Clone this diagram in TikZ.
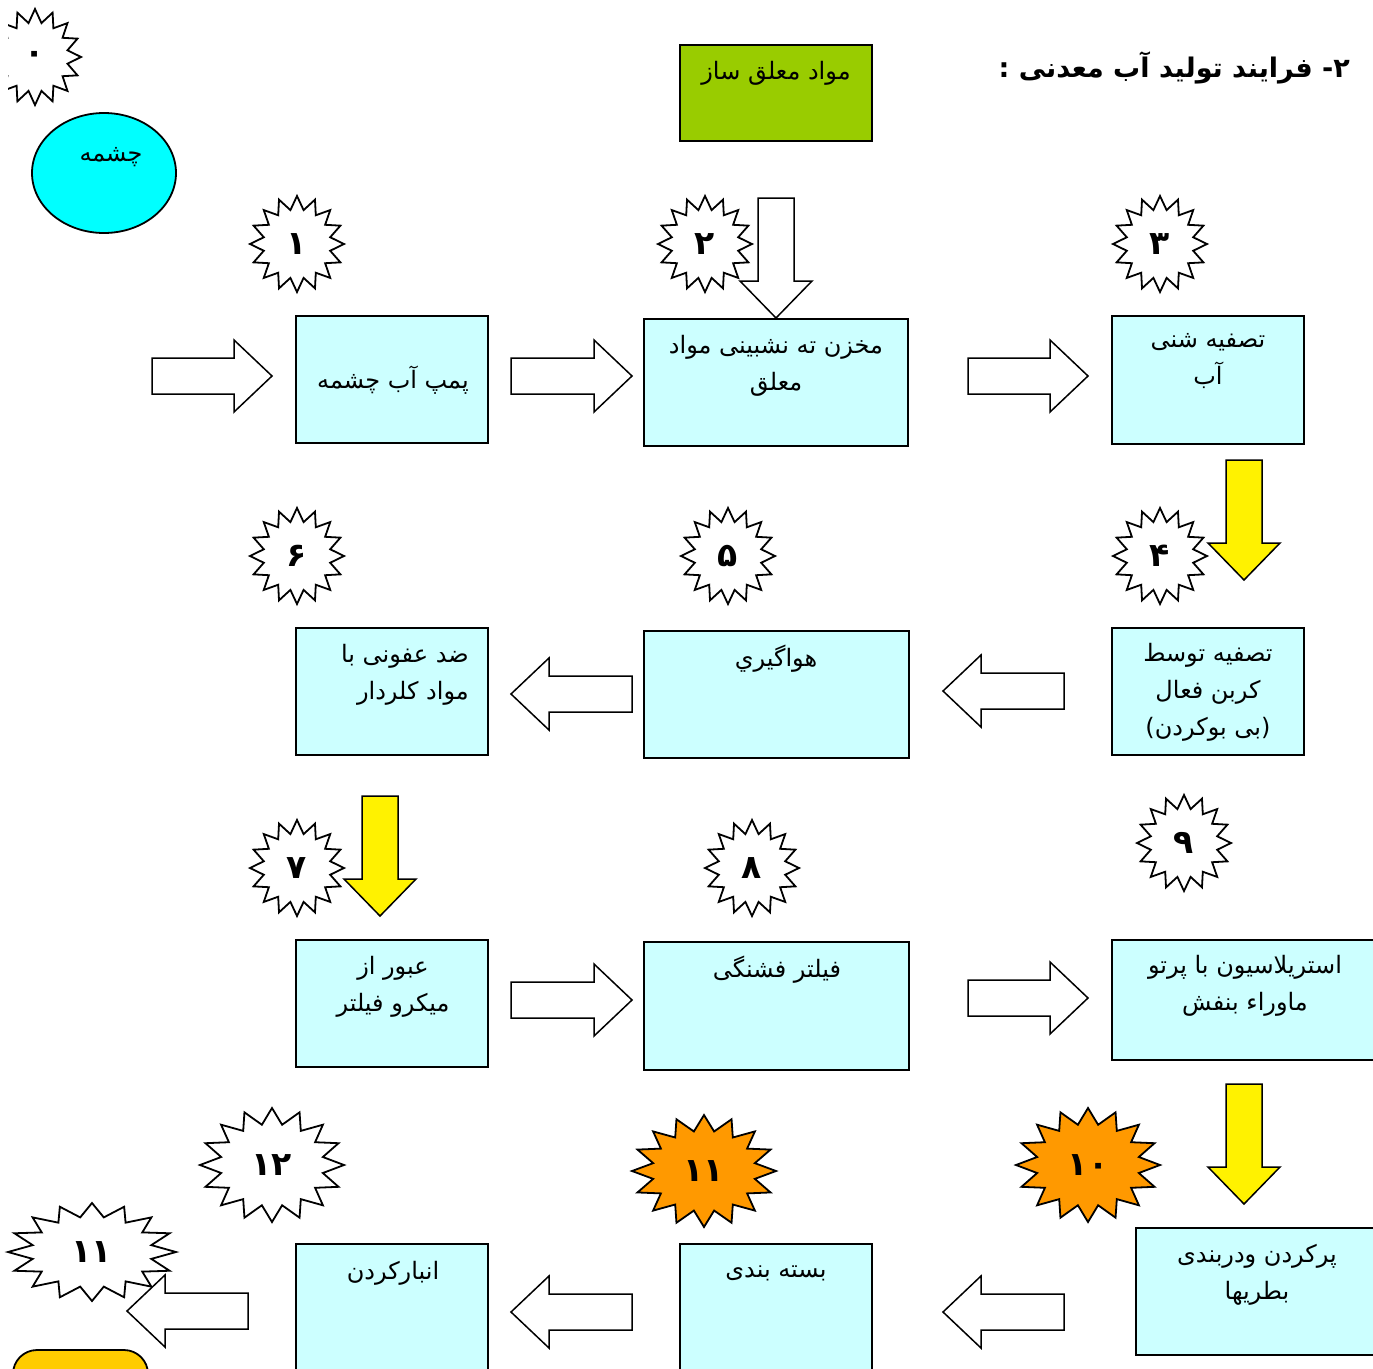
\documentclass[tikz,border=0pt]{standalone}
\usepackage{fontspec}
\usetikzlibrary{shapes.geometric}
\TeXXeTstate=1
\newfontfamily\arabicfont[Script=Arabic]{DejaVu Sans}
\newcommand\R[1]{\beginR #1\endR}
\definecolor{boxcyan}{HTML}{CCFFFF}
\definecolor{lime}{HTML}{99CC00}
\definecolor{orng}{HTML}{FF9900}
\definecolor{gold}{HTML}{FFCC00}
\definecolor{aqua}{HTML}{00FFFF}
\tikzset{
  procbox/.style={draw=black, fill=boxcyan, line width=1.8pt, inner sep=0pt},
  boxtxt/.style={font=\arabicfont\fontsize{24}{37}\selectfont, align=center, inner sep=0pt},
  numtxt/.style={font=\arabicfont\bfseries\fontsize{33}{36}\selectfont, inner sep=0pt},
  burstline/.style={draw=black, line width=1.8pt, line join=miter},
  blockarrow/.style={draw=black, line width=1.5pt, line join=miter},
}
\newcommand\burst[6]{% name x y rx ry fill
  \path[burstline, fill=#6] plot[samples at={0,...,31}, variable=\k]
    ({#2+(iseven(\k)?1:0.72)*#4*cos(\k*11.25+90)}, {#3+(iseven(\k)?1:0.72)*#5*sin(\k*11.25+90)}) -- cycle;
  \coordinate (#1) at (#2,#3);
}
\newcommand\rarrow[4]{% x1 xtip yc fill
  \path[blockarrow, fill=#4] (#1,{#3-18}) -- ({#2-38},{#3-18}) -- ({#2-38},{#3-36}) -- (#2,#3)
    -- ({#2-38},{#3+36}) -- ({#2-38},{#3+18}) -- (#1,{#3+18}) -- cycle;}
\newcommand\larrow[4]{% xtip x2 yc fill
  \path[blockarrow, fill=#4] (#2,{#3-18}) -- ({#1+38},{#3-18}) -- ({#1+38},{#3-36}) -- (#1,#3)
    -- ({#1+38},{#3+36}) -- ({#1+38},{#3+18}) -- (#2,{#3+18}) -- cycle;}
\newcommand\darrow[4]{% xc ytop ytip fill
  \path[blockarrow, fill=#4] ({#1-18},#2) -- ({#1+18},#2) -- ({#1+18},{#3-37}) -- ({#1+36},{#3-37})
    -- (#1,#3) -- ({#1-36},{#3-37}) -- ({#1-18},{#3-37}) -- cycle;}
\begin{document}
\begin{tikzpicture}[x=1pt,y=-1pt]
\useasboundingbox (0,0) rectangle (1373,1368);
\clip (0,0) rectangle (1373,1368);

% title
\node[font=\arabicfont\bfseries\fontsize{27}{30}\selectfont, anchor=east, inner sep=0pt] (title) at (1350,68) {\R{۲- فرایند تولید آب معدنی :}};

% top-left
\begin{scope}
\clip (8,0) rectangle (200,120);
\burst{s0}{35}{57}{46}{48}{white}
\end{scope}
\node[numtxt] (n0) at (s0) {۰};
\node[draw=black, fill=aqua, line width=1.8pt, ellipse, minimum width=144pt, minimum height=120pt] (spring) at (104,173) {};
\node[boxtxt] (springtxt) at (111,157) {\R{چشمه}};

% green box
\node[draw=black, fill=lime, line width=1.8pt, minimum width=192pt, minimum height=96pt, inner sep=0pt] (agent) at (776,93) {};
\node[boxtxt] at (776,73) {\R{مواد معلق ساز}};

% row 1
\node[procbox, minimum width=192pt, minimum height=127pt] (b1) at (392,379.5) {};
\node[boxtxt] at (393,380) {\R{پمپ آب چشمه}};
\node[procbox, minimum width=264pt, minimum height=127pt] (b2) at (776,382.5) {};
\node[boxtxt] at (776,365.5) {\R{مخزن ته نشبینی مواد}\\\R{معلق}};
\node[procbox, minimum width=192pt, minimum height=128pt] (b3) at (1208,380) {};
\node[boxtxt] at (1208,361.5) {\R{تصفیه شنی}\\\R{آب}};

% row 2
\node[procbox, minimum width=192pt, minimum height=127pt] (b4) at (1208,691.5) {};
\node[boxtxt] at (1208,692) {\R{تصفیه توسط}\\\R{کربن فعال}\\\R{(بی بوکردن)}};
\node[procbox, minimum width=265pt, minimum height=127pt] (b5) at (776.5,694.5) {};
\node[boxtxt] at (776,659) {\R{هواگيري}};
\node[procbox, minimum width=192pt, minimum height=127pt] (b6) at (392,691.5) {};
\node[boxtxt, align=right, anchor=east] at (469,675) {\R{ضد عفونی با}\\\R{مواد کلردار}};

% row 3
\node[procbox, minimum width=192pt, minimum height=127pt] (b7) at (392,1003.5) {};
\node[boxtxt] at (393,986.5) {\R{عبور از}\\\R{میکرو فیلتر}};
\node[procbox, minimum width=265pt, minimum height=128pt] (b8) at (776.5,1006) {};
\node[boxtxt] at (777,970) {\R{فیلتر فشنگی}};
\node[procbox, minimum width=280pt, minimum height=120pt] (b9) at (1252,1000) {};
\node[boxtxt] at (1245,986) {\R{استریلاسیون با پرتو}\\\R{ماوراء بنفش}};

% row 4
\node[procbox, minimum width=260pt, minimum height=127pt] (b10) at (1266,1291.5) {};
\node[boxtxt] at (1257,1275) {\R{پرکردن ودربندی}\\\R{بطریها}};
\node[procbox, minimum width=192pt, minimum height=160pt] (b11) at (776,1324) {};
\node[boxtxt] at (776,1273) {\R{بسته بندی}};
\node[procbox, minimum width=192pt, minimum height=160pt] (b12) at (392,1324) {};
\node[boxtxt] at (393,1273) {\R{انبارکردن}};

% yellow rounded shape bottom-left
\path[draw=black, fill=gold, line width=1.8pt, rounded corners=24pt] (13,1400) -- (13,1350) -- (148,1350) -- (148,1400);

% starbursts
\burst{s1}{297}{244}{47}{48}{white}
\burst{s2}{705}{244}{47}{48}{white}
\burst{s3}{1160}{244}{47}{48}{white}
\burst{s4}{1160}{556}{47}{48}{white}
\burst{s5}{728}{556}{47}{48}{white}
\burst{s6}{297}{556}{47}{48}{white}
\burst{s7}{297}{868}{47}{48}{white}
\burst{s8}{752}{868}{47}{48}{white}
\burst{s9}{1184}{843}{47}{48}{white}
\burst{s12}{272}{1165}{72}{57}{white}
\burst{s11}{704}{1171}{72}{56}{orng}
\burst{s10}{1088}{1165}{72}{57}{orng}
\burst{s13}{92}{1252}{84}{49}{white}
\node[numtxt] at (s1) {۱};
\node[numtxt] at (s2) {۲};
\node[numtxt] at (s3) {۳};
\node[numtxt] at (s4) {۴};
\node[numtxt] at (s5) {۵};
\node[numtxt] at (s6) {۶};
\node[numtxt] at (s7) {۷};
\node[numtxt] at (s8) {۸};
\node[numtxt] at (s9) {۹};
\node[numtxt] at (s12) {۱۲};
\node[numtxt] at (s11) {۱۱};
\node[numtxt] at (s10) {۱۰};
\node[numtxt] at (s13) {۱۱};

% arrows
\darrow{776}{198}{318}{white}
\rarrow{152}{272}{376}{white}
\rarrow{511}{632}{376}{white}
\rarrow{968}{1088}{376}{white}
\darrow{1244}{460}{580}{yellow}
\larrow{943}{1064}{691}{white}
\larrow{511}{632}{694}{white}
\darrow{380}{796}{916}{yellow}
\rarrow{511}{632}{1000}{white}
\rarrow{968}{1088}{998}{white}
\darrow{1244}{1084}{1204}{yellow}
\larrow{943}{1064}{1312}{white}
\larrow{511}{632}{1312}{white}
\larrow{127}{248}{1311}{white}
\end{tikzpicture}
\end{document}
